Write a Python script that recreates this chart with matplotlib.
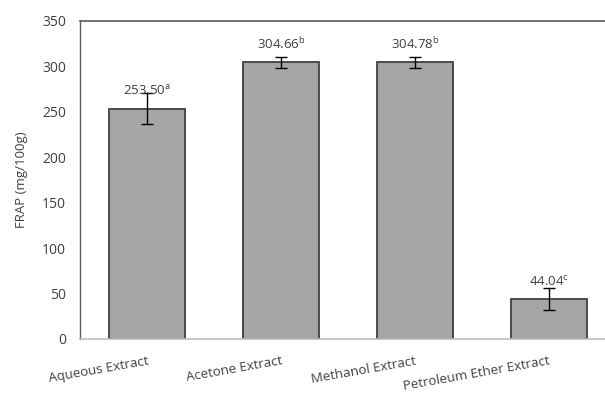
import matplotlib
matplotlib.use("Agg")
import matplotlib.pyplot as plt
import numpy as np

plt.rcParams['font.family'] = ['Open Sans', 'DejaVu Sans']
plt.rcParams['mathtext.fontset'] = 'custom'
plt.rcParams['mathtext.rm'] = 'Open Sans'
plt.rcParams['mathtext.it'] = 'Open Sans'

categories = ["Aqueous Extract", "Acetone Extract", "Methanol Extract", "Petroleum Ether Extract"]
frap_values = [253.50, 304.66, 304.78, 44.04]
frap_errors = [17.0, 6.0, 6.0, 12.5]
letters = ["a", "b", "b", "c"]
y_ticks = [0, 50, 100, 150, 200, 250, 300, 350]

text_color = "#404040"

fig = plt.figure(figsize=(6.05, 3.94), dpi=100)
ax = fig.add_axes([80 / 605, 55 / 394, 536 / 605, 318 / 394])

x = np.arange(len(categories))
ax.bar(x, frap_values, width=0.57, color="#a6a6a6", edgecolor="#404040", linewidth=1.3, zorder=2)
ax.errorbar(x, frap_values, yerr=frap_errors, fmt="none", ecolor="black",
            elinewidth=1.0, capsize=4.5, capthick=1.0, zorder=3)

for xi, v, let in zip(x, frap_values, letters):
    ax.annotate(f"{v:.2f}" + r"$^{\mathrm{" + let + "}}$", (xi, v),
                xytext=(0, 7.5), textcoords="offset points",
                ha="center", va="bottom", fontsize=9.5, color=text_color, zorder=4)

ax.set_xlim(-0.5, len(categories) - 0.5)
ax.set_ylim(0, 350)
ax.set_yticks(y_ticks)
ax.set_xticks(x)
ax.set_xticklabels(categories, rotation=10, ha="right", rotation_mode="anchor",
                   fontsize=9.5, color=text_color)
ax.tick_params(axis="y", length=0, pad=10, labelsize=10, labelcolor=text_color)
ax.tick_params(axis="x", length=0, pad=11)
ax.set_ylabel("FRAP (mg/100g)", fontsize=9.5, color=text_color, labelpad=10)

ax.spines["left"].set_color("#595959")
ax.spines["left"].set_linewidth(1.0)
ax.spines["top"].set_color("#595959")
ax.spines["top"].set_linewidth(1.2)
ax.spines["bottom"].set_color("#bfbfbf")
ax.spines["bottom"].set_linewidth(1.2)
ax.spines["right"].set_visible(False)

fig.savefig("out.png", dpi=100)
